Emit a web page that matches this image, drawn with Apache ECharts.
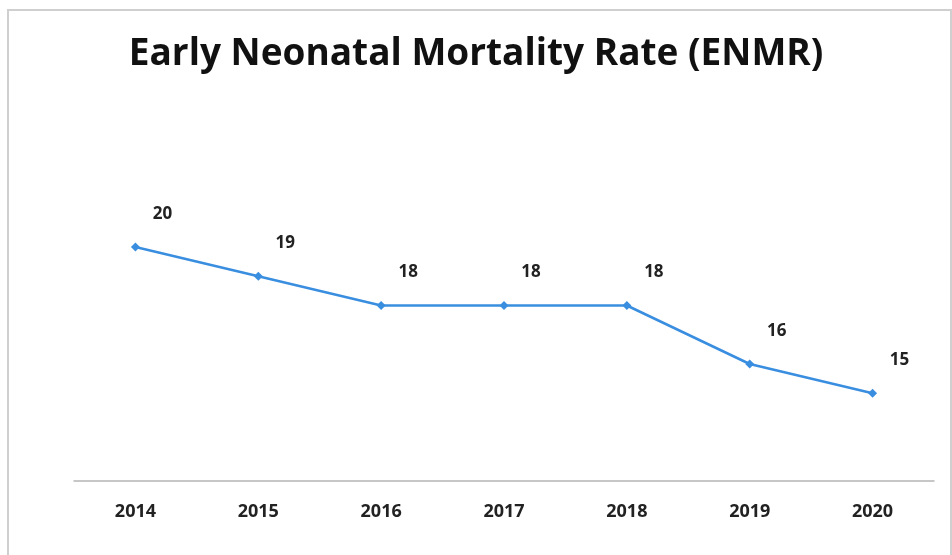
<!DOCTYPE html>
<html><head><meta charset="utf-8">
<script src="https://cdn.jsdelivr.net/npm/echarts@6/dist/echarts.min.js"></script>
<style>html,body{margin:0;padding:0;background:#fff;overflow:hidden}#c{width:952px;height:555px}</style>
</head><body><div id="c"></div>
<script>
const years = ['2014','2015','2016','2017','2018','2019','2020'];
const enmr = [20, 19, 18, 18, 18, 16, 15];
const chart = echarts.init(document.getElementById('c'));
chart.setOption({
  animation: false,
  backgroundColor: '#fff',
  title: {
    text: 'Early Neonatal Mortality Rate (ENMR)',
    left: 'center', top: 31,
    textStyle: {fontFamily: 'Open Sans', fontWeight: 'bold', fontSize: 37, color: '#111'}
  },
  graphic: [{type: 'rect', shape: {x: 8, y: 10, width: 943, height: 570},
    style: {fill: 'none', stroke: '#cfcfcf', lineWidth: 2}, silent: true}],
  grid: {left: 74, right: 18, top: 130, bottom: 74},
  xAxis: {
    type: 'category', data: years, boundaryGap: true,
    axisLine: {lineStyle: {color: '#b5b5b5', width: 1.5}},
    axisTick: {show: false},
    axisLabel: {margin: 22, fontFamily: 'Open Sans', fontWeight: 'bold', fontSize: 18, color: '#222'}
  },
  yAxis: {type: 'value', min: 12, max: 24, show: false, splitLine: {show: false}},
  series: [{
    type: 'line', data: enmr,
    symbol: 'diamond', symbolSize: 9,
    lineStyle: {color: '#3a8ee0', width: 2.5},
    itemStyle: {color: '#3a8ee0'},
    label: {show: true, position: 'top', offset: [27, -15],
      fontFamily: 'Open Sans', fontWeight: 'bold', fontSize: 17, color: '#222'}
  }]
});
</script></body></html>
